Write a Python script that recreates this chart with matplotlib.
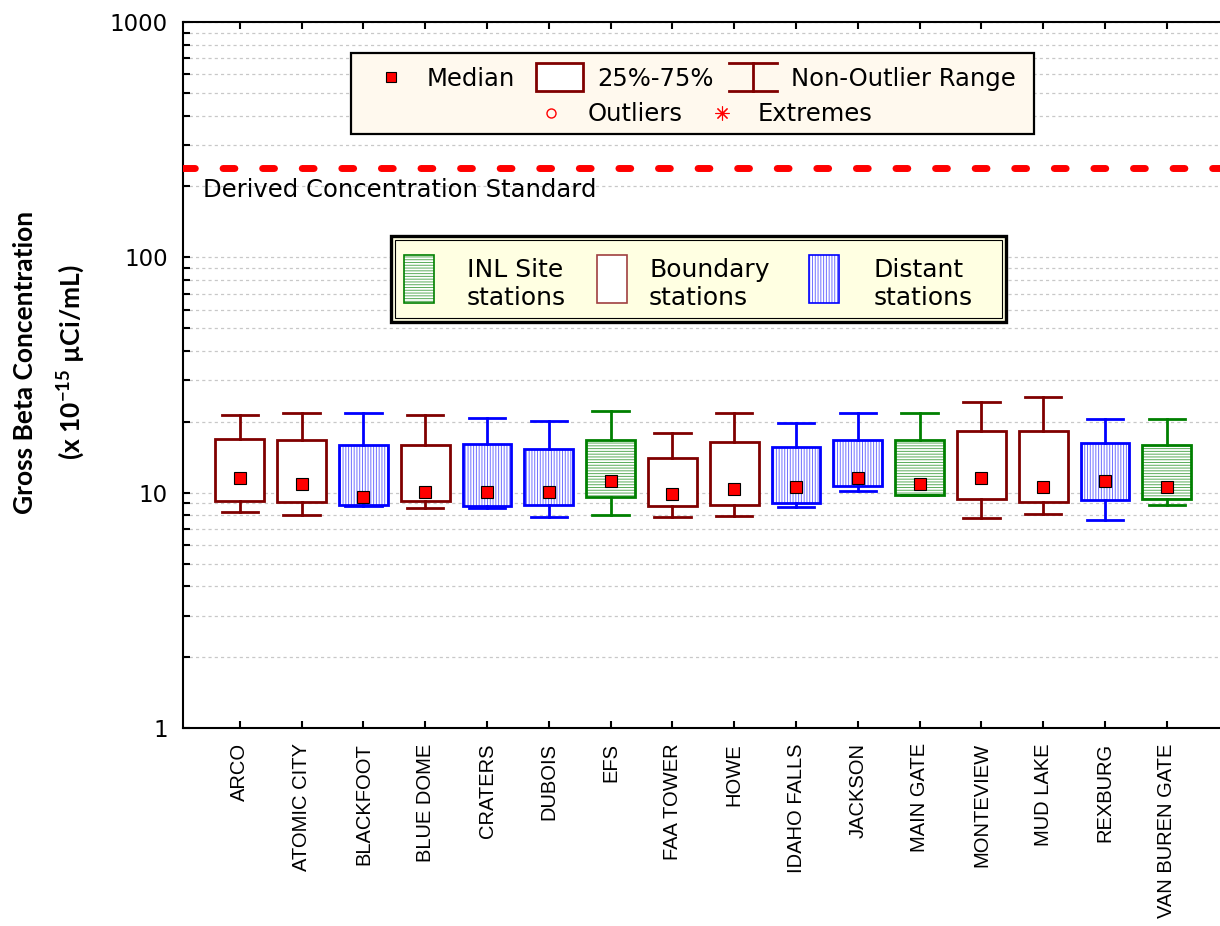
import numpy as np
import matplotlib.pyplot as plt
from matplotlib.patches import Rectangle
from matplotlib.lines import Line2D

plt.rcParams['font.family'] = ['DejaVu Sans']
plt.rcParams['mathtext.fontset'] = 'custom'
plt.rcParams['mathtext.rm'] = 'Lato'
plt.rcParams['mathtext.bf'] = 'Lato:bold'
plt.rcParams['hatch.linewidth'] = 0.7

# data (x 10^-15 uCi/mL)
stations = ['ARCO', 'ATOMIC CITY', 'BLACKFOOT', 'BLUE DOME', 'CRATERS', 'DUBOIS',
            'EFS', 'FAA TOWER', 'HOWE', 'IDAHO FALLS', 'JACKSON', 'MAIN GATE',
            'MONTEVIEW', 'MUD LAKE', 'REXBURG', 'VAN BUREN GATE']
group = ['B', 'B', 'D', 'B', 'D', 'D', 'I', 'B', 'B', 'D', 'D', 'I', 'B', 'B', 'D', 'I']
median = [11.5, 10.9, 9.6, 10.1, 10.1, 10.1, 11.2, 9.84, 10.4, 10.6, 11.5, 10.9, 11.5, 10.6, 11.2, 10.6]
q1 = [9.25, 9.1, 8.87, 9.22, 8.75, 8.84, 9.62, 8.75, 8.89, 9.04, 10.7, 9.75, 9.43, 9.16, 9.31, 9.43]
q3 = [16.9, 16.7, 15.9, 15.9, 16.1, 15.3, 16.7, 14.1, 16.4, 15.7, 16.7, 16.8, 18.2, 18.3, 16.2, 15.9]
whis_lo = [8.26, 8.04, 8.8, 8.6, 8.6, 7.88, 8.04, 7.88, 7.98, 8.72, 10.2, 9.75, 7.83, 8.12, 7.66, 8.84]
whis_hi = [21.3, 21.8, 21.8, 21.4, 20.8, 20.1, 22.2, 18.0, 21.9, 19.7, 21.9, 21.7, 24.2, 25.5, 20.6, 20.5]
dcs = 240

edge_col = {'B': '#800000', 'D': '#0000ff', 'I': '#008000'}
hatch_col = {'B': 'none', 'D': '#7070ff', 'I': '#5aac5a'}
hatch_pat = {'B': '', 'D': '||||||', 'I': '------'}

W, H = 1220, 926
fig = plt.figure(figsize=(W / 100, H / 100), dpi=100)
ax = fig.add_axes([183 / W, 198 / H, 1 - 183 / W, 706 / H])
ax.set_yscale('log')
ax.set_ylim(1, 1000)
ax.set_xlim(-0.92, 15.86)

pos = np.arange(len(stations))

# white + hatched box interiors
bars = ax.bar(pos, np.array(q3) - np.array(q1), bottom=q1, width=0.79,
              color='white', linewidth=0, zorder=1.5)
for b, g in zip(bars, group):
    b.set_hatch(hatch_pat[g])
    b.set_edgecolor(hatch_col[g])

stats = [dict(med=m, q1=a, q3=b, whislo=lo, whishi=hi, fliers=[])
         for m, a, b, lo, hi in zip(median, q1, q3, whis_lo, whis_hi)]
bp = ax.bxp(stats, positions=pos, widths=0.79, capwidths=0.59, showfliers=False,
            patch_artist=True, manage_ticks=False,
            boxprops=dict(facecolor='none', linewidth=2.0),
            whiskerprops=dict(linewidth=2.0), capprops=dict(linewidth=2.0),
            medianprops=dict(linewidth=0))
for i, g in enumerate(group):
    c = edge_col[g]
    bp['boxes'][i].set_edgecolor(c)
    bp['boxes'][i].set_zorder(2)
    for art in bp['whiskers'][2 * i:2 * i + 2] + bp['caps'][2 * i:2 * i + 2]:
        art.set_color(c)
ax.plot(pos, median, 's', ms=8, mfc='red', mec='black', mew=0.8, ls='none', zorder=4)

# derived concentration standard
ax.axhline(dcs, color='red', lw=5, dashes=(1.7, 4.0), dash_capstyle='round', zorder=3)

# axes styling
ax.yaxis.grid(True, which='both', color='#c8c8c8', linestyle=(0, (2.5, 2.5)), lw=0.9)
ax.set_axisbelow(True)
ax.set_yticks([1, 10, 100, 1000])
ax.set_yticklabels(['1', '10', '100', '1000'], fontsize=16.5)
ax.yaxis.set_minor_formatter(plt.NullFormatter())
ax.tick_params(axis='y', which='both', direction='in', length=5, width=1.5, pad=11)
ax.set_xticks(pos)
ax.set_xticklabels(stations, rotation=90, fontsize=14.5, family=['Liberation Sans'])
ax.tick_params(axis='x', direction='in', top=True, length=5, width=1.5, pad=11)
for s in ['left', 'top', 'bottom']:
    ax.spines[s].set_linewidth(1.5)
ax.spines['right'].set_visible(False)


def fp(x, y):
    return x / W, 1 - y / H


# y label
fig.text(*fp(25, 362), 'Gross Beta Concentration', rotation=90, ha='center', va='center',
         fontsize=19, family=['Lato'], fontweight='bold')
fig.text(*fp(71, 362), r'(x 10$^{\mathbf{-15}}$ µCi/mL)', rotation=90, ha='center', va='center',
         fontsize=19, family=['Lato'], fontweight='bold')

fig.text(*fp(203, 197), 'Derived Concentration Standard', fontsize=17.5, va='baseline')

# legend 1 (box plot elements)
dr = '#800000'
fig.add_artist(Rectangle(fp(351, 134), 683 / W, 81 / H, transform=fig.transFigure,
                         facecolor='#fff9ee', edgecolor='black', lw=1.6, zorder=5))
fig.add_artist(Line2D([fp(391, 77)[0]], [fp(391, 77)[1]], marker='s', ms=7.5, mfc='red',
                      mec='black', mew=0.8, transform=fig.transFigure, zorder=6))
fig.text(*fp(427, 86), 'Median', fontsize=17.5, va='baseline', zorder=6)
fig.add_artist(Rectangle(fp(536, 91), 47 / W, 28 / H, transform=fig.transFigure,
                         facecolor='white', edgecolor=dr, lw=2, zorder=6))
fig.text(*fp(597, 86), '25%-75%', fontsize=17.5, va='baseline', zorder=6)
for yy in (63, 91):
    fig.add_artist(Line2D([729 / W, 777 / W], [1 - yy / H] * 2, color=dr, lw=2,
                          transform=fig.transFigure, zorder=6))
fig.add_artist(Line2D([753 / W] * 2, [1 - 63 / H, 1 - 91 / H], color=dr, lw=2,
                      transform=fig.transFigure, zorder=6))
fig.text(*fp(791, 86), 'Non-Outlier Range', fontsize=17.5, va='baseline', zorder=6)
fig.add_artist(Line2D([551 / W], [1 - 113 / H], marker='o', ms=6.5, mfc='none', mec='red',
                      mew=1, transform=fig.transFigure, zorder=6))
fig.text(*fp(588, 121), 'Outliers', fontsize=17.5, va='baseline', zorder=6)
fig.add_artist(Line2D([722 / W], [1 - 113 / H], marker=(8, 2, 0), ms=10, mec='red',
                      mew=0.8, transform=fig.transFigure, zorder=6))
fig.text(*fp(758, 121), 'Extremes', fontsize=17.5, va='baseline', zorder=6)

# legend 2 (station groups)
fig.add_artist(Rectangle(fp(391, 322), 615 / W, 86 / H, transform=fig.transFigure,
                         facecolor='#ffffe2', edgecolor='black', lw=2.4, zorder=5))
fig.add_artist(Rectangle(fp(395, 318), 607 / W, 78 / H, transform=fig.transFigure,
                         facecolor='none', edgecolor='black', lw=0.8, zorder=5))
items = [(404, 'I', 'INL Site', 467), (597, 'B', 'Boundary', 649), (809, 'D', 'Distant', 874)]
for x0, g, lab, tx in items:
    hp = Rectangle(fp(x0, 303), 30 / W, 48 / H, transform=fig.transFigure,
                   facecolor='white', edgecolor=hatch_col[g] if g != 'B' else 'white',
                   hatch=hatch_pat[g], lw=0, zorder=6)
    fig.add_artist(hp)
    ec = edge_col[g] if g != 'B' else '#a04040'
    fig.add_artist(Rectangle(fp(x0, 303), 30 / W, 48 / H, transform=fig.transFigure,
                             facecolor='none', edgecolor=ec, lw=1.2, zorder=7))
    fig.text(*fp(tx, 277), lab, fontsize=18, va='baseline', zorder=6)
    fig.text(*fp(tx, 305), 'stations', fontsize=18, va='baseline', zorder=6)

fig.savefig('out.png', dpi=100)
